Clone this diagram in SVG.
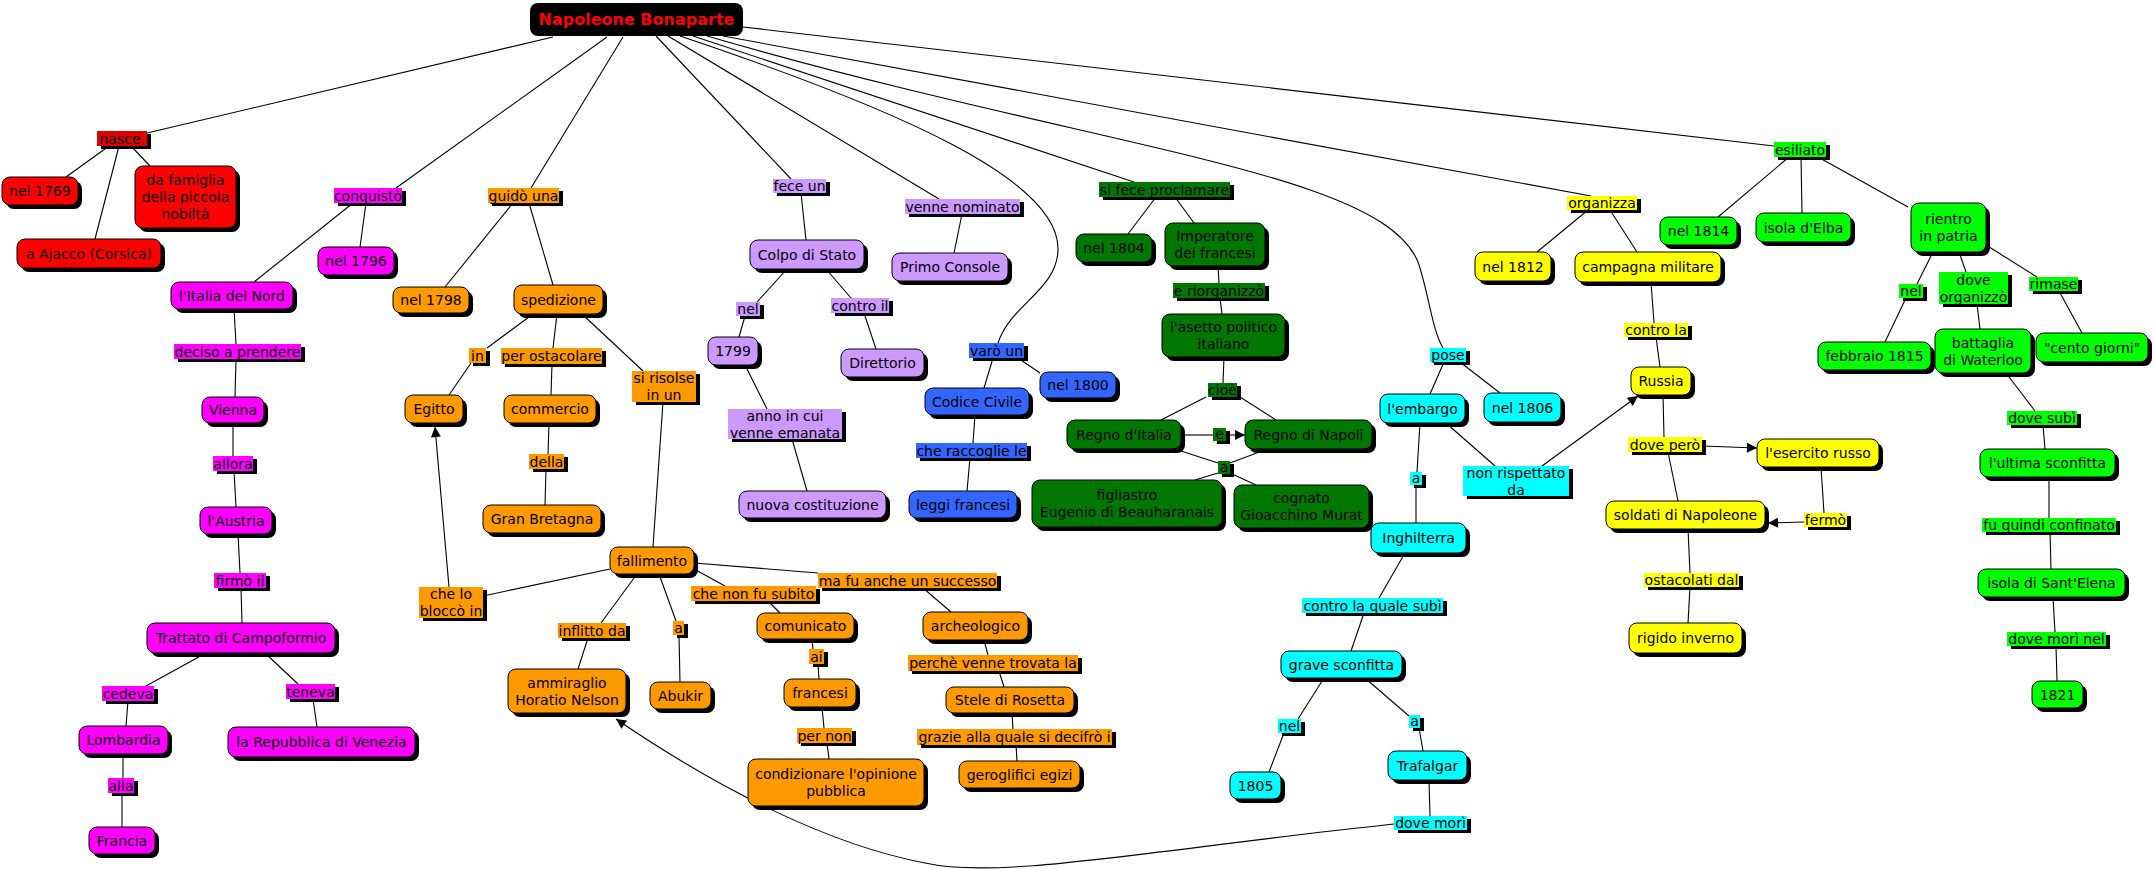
<svg xmlns="http://www.w3.org/2000/svg" width="2154" height="869" viewBox="0 0 2154 869">
<style>
.s{fill:#000}
.n .b{stroke:#000;stroke-width:1}
text{font-family:"DejaVu Sans",Verdana,sans-serif;font-size:14px;text-anchor:middle;fill:#000}
.red .b{fill:#f00}.l.red .b{fill:#e00000}
.mag .b{fill:#f0f}.ora .b{fill:#f90}.pur .b{fill:#c9f}.blu .b{fill:#36f}
.dgr .b{fill:#070}.cya .b{fill:#0ff}.yel .b{fill:#ff0}.grn .b{fill:#0f0}
#conn line,#conn path{stroke:#000;stroke-width:1.1;fill:none}
#title text{font-weight:bold;font-size:16px;fill:#f00}
</style>
<defs>
<marker id="arr" viewBox="0 0 10 10" refX="10" refY="5" markerWidth="11" markerHeight="10" markerUnits="userSpaceOnUse" orient="auto"><path d="M0,0 L10,5 L0,10 z" fill="#000"/></marker>
</defs>
<rect width="2154" height="869" fill="#fff"/>
<g id="conn">
<line x1="553" y1="37" x2="147" y2="133"/>
<line x1="607" y1="37" x2="396" y2="188"/>
<line x1="623" y1="37" x2="531" y2="188"/>
<line x1="656" y1="36" x2="791" y2="179"/>
<line x1="668" y1="36" x2="939" y2="199"/>
<path d="M680,36 C900,110 1060,180 1058,250 C1057,290 1010,305 998,343"/>
<line x1="693" y1="36" x2="1134" y2="182"/>
<path d="M707,36 C1100,150 1380,170 1418,262 C1428,290 1432,330 1443,348"/>
<line x1="723" y1="36" x2="1591" y2="196"/>
<line x1="743" y1="27" x2="1774" y2="146"/>
<line x1="109" y1="146" x2="66" y2="177"/>
<line x1="119" y1="146" x2="95" y2="239"/>
<line x1="131" y1="146" x2="150" y2="166"/>
<line x1="353" y1="203" x2="254" y2="282"/>
<line x1="366" y1="203" x2="360" y2="247"/>
<line x1="234" y1="309" x2="236" y2="344"/>
<line x1="236" y1="359" x2="235" y2="397"/>
<line x1="233" y1="423" x2="233" y2="456"/>
<line x1="234" y1="471" x2="236" y2="507"/>
<line x1="238" y1="534" x2="240" y2="573"/>
<line x1="241" y1="588" x2="242" y2="623"/>
<line x1="206" y1="653" x2="146" y2="686"/>
<line x1="265" y1="653" x2="298" y2="684"/>
<line x1="128" y1="701" x2="126" y2="726"/>
<line x1="313" y1="699" x2="317" y2="727"/>
<line x1="123" y1="754" x2="123" y2="778"/>
<line x1="122" y1="793" x2="122" y2="827"/>
<line x1="513" y1="203" x2="445" y2="287"/>
<line x1="529" y1="203" x2="553" y2="285"/>
<line x1="533" y1="314" x2="487" y2="348"/>
<line x1="471" y1="363" x2="449" y2="395"/>
<line x1="557" y1="314" x2="553" y2="348"/>
<line x1="552" y1="364" x2="551" y2="395"/>
<line x1="549" y1="423" x2="548" y2="454"/>
<line x1="546" y1="469" x2="545" y2="505"/>
<line x1="582" y1="314" x2="643" y2="371"/>
<line x1="663" y1="402" x2="653" y2="547"/>
<line x1="610" y1="569" x2="483" y2="596"/>
<line x1="449" y1="587" x2="435" y2="427" marker-end="url(#arr)"/>
<line x1="637" y1="574" x2="601" y2="623"/>
<line x1="588" y1="638" x2="578" y2="669"/>
<line x1="659" y1="574" x2="676" y2="621"/>
<line x1="679" y1="635" x2="680" y2="682"/>
<line x1="694" y1="569" x2="725" y2="586"/>
<line x1="694" y1="563" x2="818" y2="573"/>
<line x1="768" y1="601" x2="780" y2="613"/>
<line x1="923" y1="588" x2="951" y2="612"/>
<line x1="812" y1="639" x2="813" y2="649"/>
<line x1="818" y1="664" x2="819" y2="679"/>
<line x1="822" y1="707" x2="824" y2="728"/>
<line x1="827" y1="743" x2="829" y2="759"/>
<line x1="984" y1="640" x2="988" y2="655"/>
<line x1="999" y1="671" x2="1004" y2="687"/>
<line x1="1012" y1="713" x2="1013" y2="729"/>
<line x1="1016" y1="745" x2="1017" y2="761"/>
<line x1="801" y1="193" x2="806" y2="240"/>
<line x1="962" y1="214" x2="954" y2="253"/>
<line x1="787" y1="269" x2="757" y2="302"/>
<line x1="826" y1="269" x2="851" y2="298"/>
<line x1="745" y1="316" x2="739" y2="337"/>
<line x1="864" y1="313" x2="876" y2="349"/>
<line x1="745" y1="365" x2="767" y2="409"/>
<line x1="792" y1="439" x2="807" y2="491"/>
<line x1="993" y1="358" x2="984" y2="388"/>
<line x1="1018" y1="358" x2="1040" y2="373"/>
<line x1="975" y1="415" x2="973" y2="443"/>
<line x1="970" y1="458" x2="967" y2="491"/>
<line x1="1156" y1="197" x2="1128" y2="234"/>
<line x1="1175" y1="197" x2="1194" y2="223"/>
<line x1="1218" y1="266" x2="1219" y2="283"/>
<line x1="1220" y1="298" x2="1222" y2="314"/>
<line x1="1224" y1="357" x2="1223" y2="383"/>
<line x1="1206" y1="397" x2="1161" y2="420"/>
<line x1="1240" y1="397" x2="1276" y2="420"/>
<line x1="1181" y1="435" x2="1213" y2="435"/>
<line x1="1226" y1="435" x2="1245" y2="435" marker-end="url(#arr)"/>
<line x1="1181" y1="451" x2="1218" y2="463"/>
<line x1="1262" y1="451" x2="1230" y2="463"/>
<line x1="1218" y1="473" x2="1195" y2="480"/>
<line x1="1230" y1="473" x2="1256" y2="485"/>
<line x1="1444" y1="362" x2="1430" y2="394"/>
<line x1="1460" y1="362" x2="1500" y2="393"/>
<line x1="1446" y1="423" x2="1495" y2="466"/>
<line x1="1542" y1="466" x2="1638" y2="396" marker-end="url(#arr)"/>
<line x1="1420" y1="423" x2="1417" y2="472"/>
<line x1="1416" y1="485" x2="1416" y2="523"/>
<line x1="1405" y1="553" x2="1379" y2="598"/>
<line x1="1364" y1="613" x2="1351" y2="651"/>
<line x1="1324" y1="678" x2="1298" y2="719"/>
<line x1="1284" y1="733" x2="1269" y2="772"/>
<line x1="1365" y1="678" x2="1409" y2="716"/>
<line x1="1419" y1="728" x2="1423" y2="751"/>
<line x1="1429" y1="780" x2="1430" y2="816"/>
<path d="M1394,824 C1150,850 1000,880 925,863 C830,845 720,790 616,719" marker-end="url(#arr)"/>
<line x1="1588" y1="210" x2="1537" y2="252"/>
<line x1="1610" y1="210" x2="1637" y2="252"/>
<line x1="1651" y1="282" x2="1654" y2="323"/>
<line x1="1656" y1="337" x2="1660" y2="367"/>
<line x1="1663" y1="395" x2="1664" y2="437"/>
<line x1="1702" y1="446" x2="1757" y2="448" marker-end="url(#arr)"/>
<line x1="1668" y1="452" x2="1678" y2="501"/>
<line x1="1821" y1="467" x2="1824" y2="513"/>
<line x1="1804" y1="522" x2="1768" y2="523" marker-end="url(#arr)"/>
<line x1="1688" y1="529" x2="1690" y2="573"/>
<line x1="1690" y1="587" x2="1688" y2="623"/>
<line x1="1789" y1="157" x2="1718" y2="217"/>
<line x1="1801" y1="157" x2="1802" y2="213"/>
<line x1="1818" y1="157" x2="1908" y2="207"/>
<line x1="1933" y1="252" x2="1917" y2="284"/>
<line x1="1959" y1="252" x2="1966" y2="272"/>
<line x1="1986" y1="245" x2="2037" y2="277"/>
<line x1="1906" y1="298" x2="1885" y2="342"/>
<line x1="1977" y1="304" x2="1980" y2="329"/>
<line x1="2059" y1="291" x2="2082" y2="333"/>
<line x1="2006" y1="373" x2="2035" y2="411"/>
<line x1="2043" y1="425" x2="2045" y2="449"/>
<line x1="2049" y1="477" x2="2049" y2="518"/>
<line x1="2050" y1="532" x2="2051" y2="569"/>
<line x1="2053" y1="597" x2="2055" y2="632"/>
<line x1="2056" y1="646" x2="2057" y2="681"/>
</g>
<g id="title"><rect x="530" y="3" width="213" height="33" rx="8" fill="#000"/><text x="636.5" y="25">Napoleone Bonaparte</text></g>
<g id="l-nasce" class="l red"><rect class="s" x="101" y="134" width="50" height="15"/><rect class="b" x="97" y="131" width="50" height="15"/><text x="120" y="144">nasce</text></g>
<g id="n-1769" class="n red"><rect class="s" x="6" y="181" width="76" height="28" rx="8"/><rect class="b" x="2" y="177" width="76" height="28" rx="8"/><text x="40" y="196">nel 1769</text></g>
<g id="n-famiglia" class="n red"><rect class="s" x="139" y="170" width="101" height="62" rx="8"/><rect class="b" x="135" y="166" width="101" height="62" rx="8"/><text x="185.5" y="185">da famiglia</text><text x="185.5" y="202">della piccola</text><text x="185.5" y="219">nobiltà</text></g>
<g id="n-ajacco" class="n red"><rect class="s" x="21" y="243" width="144" height="29" rx="8"/><rect class="b" x="17" y="239" width="144" height="29" rx="8"/><text x="89" y="258.5">a Ajacco (Corsica)</text></g>
<g id="l-conquisto" class="l mag"><rect class="s" x="338" y="191" width="68" height="15"/><rect class="b" x="334" y="188" width="68" height="15"/><text x="368" y="200.5">conquistò</text></g>
<g id="n-1796" class="n mag"><rect class="s" x="322" y="251" width="76" height="28" rx="8"/><rect class="b" x="318" y="247" width="76" height="28" rx="8"/><text x="356" y="266">nel 1796</text></g>
<g id="n-italia" class="n mag"><rect class="s" x="175" y="286" width="122" height="27" rx="8"/><rect class="b" x="171" y="282" width="122" height="27" rx="8"/><text x="232" y="300.5">l'Italia del Nord</text></g>
<g id="l-deciso" class="l mag"><rect class="s" x="178" y="347" width="127" height="15"/><rect class="b" x="174" y="344" width="127" height="15"/><text x="237.5" y="356.5">deciso a prendere</text></g>
<g id="n-vienna" class="n mag"><rect class="s" x="206" y="401" width="62" height="26" rx="8"/><rect class="b" x="202" y="397" width="62" height="26" rx="8"/><text x="233" y="415">Vienna</text></g>
<g id="l-allora" class="l mag"><rect class="s" x="217" y="459" width="40" height="15"/><rect class="b" x="213" y="456" width="40" height="15"/><text x="233" y="468.5">allora</text></g>
<g id="n-austria" class="n mag"><rect class="s" x="204" y="511" width="72" height="27" rx="8"/><rect class="b" x="200" y="507" width="72" height="27" rx="8"/><text x="236" y="525.5">l'Austria</text></g>
<g id="l-firmo" class="l mag"><rect class="s" x="218" y="576" width="52" height="15"/><rect class="b" x="214" y="573" width="52" height="15"/><text x="240" y="585.5">firmò il</text></g>
<g id="n-trattato" class="n mag"><rect class="s" x="151" y="627" width="188" height="30" rx="8"/><rect class="b" x="147" y="623" width="188" height="30" rx="8"/><text x="241" y="643">Trattato di Campoformio</text></g>
<g id="l-cedeva" class="l mag"><rect class="s" x="106" y="689" width="52" height="15"/><rect class="b" x="102" y="686" width="52" height="15"/><text x="128" y="698.5">cedeva</text></g>
<g id="l-teneva" class="l mag"><rect class="s" x="290" y="687" width="49" height="15"/><rect class="b" x="286" y="684" width="49" height="15"/><text x="310.5" y="696.5">teneva</text></g>
<g id="n-lombardia" class="n mag"><rect class="s" x="83" y="730" width="89" height="28" rx="8"/><rect class="b" x="79" y="726" width="89" height="28" rx="8"/><text x="123.5" y="745">Lombardia</text></g>
<g id="n-venezia" class="n mag"><rect class="s" x="232" y="731" width="187" height="30" rx="8"/><rect class="b" x="228" y="727" width="187" height="30" rx="8"/><text x="321.5" y="747">la Repubblica di Venezia</text></g>
<g id="l-alla" class="l mag"><rect class="s" x="112" y="781" width="26" height="15"/><rect class="b" x="108" y="778" width="26" height="15"/><text x="121" y="790.5">alla</text></g>
<g id="n-francia" class="n mag"><rect class="s" x="93" y="831" width="66" height="27" rx="8"/><rect class="b" x="89" y="827" width="66" height="27" rx="8"/><text x="122" y="845.5">Francia</text></g>
<g id="l-guido" class="l ora"><rect class="s" x="492" y="191" width="71" height="15"/><rect class="b" x="488" y="188" width="71" height="15"/><text x="523.5" y="200.5">guidò una</text></g>
<g id="n-1798" class="n ora"><rect class="s" x="397" y="291" width="76" height="26" rx="8"/><rect class="b" x="393" y="287" width="76" height="26" rx="8"/><text x="431" y="305">nel 1798</text></g>
<g id="n-spedizione" class="n ora"><rect class="s" x="518" y="289" width="89" height="29" rx="8"/><rect class="b" x="514" y="285" width="89" height="29" rx="8"/><text x="558.5" y="304.5">spedizione</text></g>
<g id="l-in" class="l ora"><rect class="s" x="473" y="351" width="17" height="15"/><rect class="b" x="469" y="348" width="17" height="15"/><text x="477.5" y="360.5">in</text></g>
<g id="l-perost" class="l ora"><rect class="s" x="505" y="351" width="101" height="16"/><rect class="b" x="501" y="348" width="101" height="16"/><text x="551.5" y="361">per ostacolare</text></g>
<g id="l-sirisolse" class="l ora"><rect class="s" x="636" y="374" width="64" height="31"/><rect class="b" x="632" y="371" width="64" height="31"/><text x="664" y="383">si risolse</text><text x="664" y="400">in un</text></g>
<g id="n-egitto" class="n ora"><rect class="s" x="409" y="399" width="58" height="28" rx="8"/><rect class="b" x="405" y="395" width="58" height="28" rx="8"/><text x="434" y="414">Egitto</text></g>
<g id="n-commercio" class="n ora"><rect class="s" x="508" y="399" width="92" height="28" rx="8"/><rect class="b" x="504" y="395" width="92" height="28" rx="8"/><text x="550" y="414">commercio</text></g>
<g id="l-della" class="l ora"><rect class="s" x="533" y="457" width="35" height="15"/><rect class="b" x="529" y="454" width="35" height="15"/><text x="546.5" y="466.5">della</text></g>
<g id="n-gb" class="n ora"><rect class="s" x="487" y="509" width="118" height="28" rx="8"/><rect class="b" x="483" y="505" width="118" height="28" rx="8"/><text x="542" y="524">Gran Bretagna</text></g>
<g id="n-fallimento" class="n ora"><rect class="s" x="614" y="551" width="84" height="27" rx="8"/><rect class="b" x="610" y="547" width="84" height="27" rx="8"/><text x="652" y="565.5">fallimento</text></g>
<g id="l-chelo" class="l ora"><rect class="s" x="423" y="590" width="64" height="31"/><rect class="b" x="419" y="587" width="64" height="31"/><text x="451" y="599">che lo</text><text x="451" y="616">bloccò in</text></g>
<g id="l-inflitto" class="l ora"><rect class="s" x="562" y="626" width="68" height="15"/><rect class="b" x="558" y="623" width="68" height="15"/><text x="592" y="635.5">inflitto da</text></g>
<g id="l-a1" class="l ora"><rect class="s" x="677" y="624" width="11" height="14"/><rect class="b" x="673" y="621" width="11" height="14"/><text x="678.5" y="633">a</text></g>
<g id="n-nelson" class="n ora"><rect class="s" x="512" y="673" width="118" height="44" rx="8"/><rect class="b" x="508" y="669" width="118" height="44" rx="8"/><text x="567" y="687.5">ammiraglio</text><text x="567" y="704.5">Horatio Nelson</text></g>
<g id="n-abukir" class="n ora"><rect class="s" x="654" y="686" width="61" height="27" rx="8"/><rect class="b" x="650" y="682" width="61" height="27" rx="8"/><text x="680.5" y="700.5">Abukir</text></g>
<g id="l-chenon" class="l ora"><rect class="s" x="695" y="589" width="125" height="15"/><rect class="b" x="691" y="586" width="125" height="15"/><text x="753.5" y="598.5">che non fu subito</text></g>
<g id="l-mafu" class="l ora"><rect class="s" x="822" y="576" width="179" height="15"/><rect class="b" x="818" y="573" width="179" height="15"/><text x="907.5" y="585.5">ma fu anche un successo</text></g>
<g id="n-comunicato" class="n ora"><rect class="s" x="761" y="617" width="97" height="26" rx="8"/><rect class="b" x="757" y="613" width="97" height="26" rx="8"/><text x="805.5" y="631">comunicato</text></g>
<g id="n-archeologico" class="n ora"><rect class="s" x="927" y="616" width="105" height="28" rx="8"/><rect class="b" x="923" y="612" width="105" height="28" rx="8"/><text x="975.5" y="631">archeologico</text></g>
<g id="l-ai" class="l ora"><rect class="s" x="813" y="652" width="15" height="15"/><rect class="b" x="809" y="649" width="15" height="15"/><text x="816.5" y="661.5">ai</text></g>
<g id="n-francesi" class="n ora"><rect class="s" x="788" y="683" width="72" height="28" rx="8"/><rect class="b" x="784" y="679" width="72" height="28" rx="8"/><text x="820" y="698">francesi</text></g>
<g id="l-pernon" class="l ora"><rect class="s" x="801" y="731" width="55" height="15"/><rect class="b" x="797" y="728" width="55" height="15"/><text x="824.5" y="740.5">per non</text></g>
<g id="n-condizionare" class="n ora"><rect class="s" x="752" y="763" width="176" height="47" rx="8"/><rect class="b" x="748" y="759" width="176" height="47" rx="8"/><text x="836" y="779">condizionare l'opinione</text><text x="836" y="796">pubblica</text></g>
<g id="l-perche" class="l ora"><rect class="s" x="912" y="658" width="170" height="16"/><rect class="b" x="908" y="655" width="170" height="16"/><text x="993" y="668">perchè venne trovata la</text></g>
<g id="n-stele" class="n ora"><rect class="s" x="950" y="691" width="128" height="26" rx="8"/><rect class="b" x="946" y="687" width="128" height="26" rx="8"/><text x="1010" y="705">Stele di Rosetta</text></g>
<g id="l-grazie" class="l ora"><rect class="s" x="921" y="732" width="195" height="16"/><rect class="b" x="917" y="729" width="195" height="16"/><text x="1014.5" y="742">grazie alla quale si decifrò i</text></g>
<g id="n-geroglifici" class="n ora"><rect class="s" x="963" y="765" width="121" height="27" rx="8"/><rect class="b" x="959" y="761" width="121" height="27" rx="8"/><text x="1019.5" y="779.5">geroglifici egizi</text></g>
<g id="l-feceun" class="l pur"><rect class="s" x="777" y="182" width="53" height="14"/><rect class="b" x="773" y="179" width="53" height="14"/><text x="799.5" y="191">fece un</text></g>
<g id="l-venne" class="l pur"><rect class="s" x="909" y="202" width="115" height="15"/><rect class="b" x="905" y="199" width="115" height="15"/><text x="962.5" y="211.5">venne nominato</text></g>
<g id="n-colpo" class="n pur"><rect class="s" x="754" y="244" width="114" height="29" rx="8"/><rect class="b" x="750" y="240" width="114" height="29" rx="8"/><text x="807" y="259.5">Colpo di Stato</text></g>
<g id="n-primo" class="n pur"><rect class="s" x="896" y="257" width="116" height="28" rx="8"/><rect class="b" x="892" y="253" width="116" height="28" rx="8"/><text x="950" y="272">Primo Console</text></g>
<g id="l-nel2" class="l pur"><rect class="s" x="740" y="305" width="24" height="14"/><rect class="b" x="736" y="302" width="24" height="14"/><text x="748" y="314">nel</text></g>
<g id="l-controil" class="l pur"><rect class="s" x="835" y="301" width="58" height="15"/><rect class="b" x="831" y="298" width="58" height="15"/><text x="860" y="310.5">contro il</text></g>
<g id="n-1799" class="n pur"><rect class="s" x="712" y="341" width="50" height="28" rx="8"/><rect class="b" x="708" y="337" width="50" height="28" rx="8"/><text x="733" y="356">1799</text></g>
<g id="n-direttorio" class="n pur"><rect class="s" x="845" y="353" width="83" height="28" rx="8"/><rect class="b" x="841" y="349" width="83" height="28" rx="8"/><text x="882.5" y="368">Direttorio</text></g>
<g id="l-anno" class="l pur"><rect class="s" x="732" y="412" width="114" height="30"/><rect class="b" x="728" y="409" width="114" height="30"/><text x="785" y="420.5">anno in cui</text><text x="785" y="437.5">venne emanata</text></g>
<g id="n-nuova" class="n pur"><rect class="s" x="743" y="495" width="147" height="27" rx="8"/><rect class="b" x="739" y="491" width="147" height="27" rx="8"/><text x="812.5" y="509.5">nuova costituzione</text></g>
<g id="l-varo" class="l blu"><rect class="s" x="973" y="346" width="55" height="15"/><rect class="b" x="969" y="343" width="55" height="15"/><text x="996.5" y="355.5">varò un</text></g>
<g id="n-1800" class="n blu"><rect class="s" x="1044" y="376" width="76" height="26" rx="8"/><rect class="b" x="1040" y="372" width="76" height="26" rx="8"/><text x="1078" y="390">nel 1800</text></g>
<g id="n-codice" class="n blu"><rect class="s" x="929" y="392" width="104" height="27" rx="8"/><rect class="b" x="925" y="388" width="104" height="27" rx="8"/><text x="977" y="406.5">Codice Civile</text></g>
<g id="l-raccoglie" class="l blu"><rect class="s" x="920" y="446" width="111" height="15"/><rect class="b" x="916" y="443" width="111" height="15"/><text x="971.5" y="455.5">che raccoglie le</text></g>
<g id="n-leggi" class="n blu"><rect class="s" x="913" y="495" width="108" height="27" rx="8"/><rect class="b" x="909" y="491" width="108" height="27" rx="8"/><text x="963" y="509.5">leggi francesi</text></g>
<g id="l-sifece" class="l dgr"><rect class="s" x="1103" y="185" width="131" height="15"/><rect class="b" x="1099" y="182" width="131" height="15"/><text x="1164.5" y="194.5">si fece proclamare</text></g>
<g id="n-1804" class="n dgr"><rect class="s" x="1080" y="238" width="76" height="28" rx="8"/><rect class="b" x="1076" y="234" width="76" height="28" rx="8"/><text x="1114" y="253">nel 1804</text></g>
<g id="n-imperatore" class="n dgr"><rect class="s" x="1169" y="227" width="100" height="43" rx="8"/><rect class="b" x="1165" y="223" width="100" height="43" rx="8"/><text x="1215" y="241">Imperatore</text><text x="1215" y="258">dei francesi</text></g>
<g id="l-riorg" class="l dgr"><rect class="s" x="1177" y="286" width="92" height="15"/><rect class="b" x="1173" y="283" width="92" height="15"/><text x="1219" y="295.5">e riorganizzò</text></g>
<g id="n-asetto" class="n dgr"><rect class="s" x="1166" y="318" width="123" height="43" rx="8"/><rect class="b" x="1162" y="314" width="123" height="43" rx="8"/><text x="1223.5" y="332">l'asetto politico</text><text x="1223.5" y="349">italiano</text></g>
<g id="l-cioe" class="l dgr"><rect class="s" x="1212" y="386" width="29" height="14"/><rect class="b" x="1208" y="383" width="29" height="14"/><text x="1222.5" y="395">cioè</text></g>
<g id="n-regnoitalia" class="n dgr"><rect class="s" x="1071" y="424" width="114" height="29" rx="8"/><rect class="b" x="1067" y="420" width="114" height="29" rx="8"/><text x="1124" y="439.5">Regno d'Italia</text></g>
<g id="l-e" class="l dgr"><rect class="s" x="1217" y="431" width="13" height="13"/><rect class="b" x="1213" y="428" width="13" height="13"/><text x="1219.5" y="439">e</text></g>
<g id="n-regnonapoli" class="n dgr"><rect class="s" x="1249" y="424" width="127" height="29" rx="8"/><rect class="b" x="1245" y="420" width="127" height="29" rx="8"/><text x="1308.5" y="439.5">Regno di Napoli</text></g>
<g id="l-a2" class="l dgr"><rect class="s" x="1222" y="464" width="12" height="13"/><rect class="b" x="1218" y="461" width="12" height="13"/><text x="1224" y="472">a</text></g>
<g id="n-figliastro" class="n dgr"><rect class="s" x="1036" y="484" width="190" height="47" rx="8"/><rect class="b" x="1032" y="480" width="190" height="47" rx="8"/><text x="1127" y="500">figliastro</text><text x="1127" y="517">Eugenio di Beauharanais</text></g>
<g id="n-cognato" class="n dgr"><rect class="s" x="1238" y="489" width="135" height="43" rx="8"/><rect class="b" x="1234" y="485" width="135" height="43" rx="8"/><text x="1301.5" y="503">cognato</text><text x="1301.5" y="520">Gioacchino Murat</text></g>
<g id="l-pose" class="l cya"><rect class="s" x="1434" y="351" width="36" height="14"/><rect class="b" x="1430" y="348" width="36" height="14"/><text x="1448" y="360">pose</text></g>
<g id="n-embargo" class="n cya"><rect class="s" x="1384" y="398" width="85" height="29" rx="8"/><rect class="b" x="1380" y="394" width="85" height="29" rx="8"/><text x="1422.5" y="413.5">l'embargo</text></g>
<g id="n-1806" class="n cya"><rect class="s" x="1488" y="397" width="77" height="29" rx="8"/><rect class="b" x="1484" y="393" width="77" height="29" rx="8"/><text x="1522.5" y="412.5">nel 1806</text></g>
<g id="l-nonrisp" class="l cya"><rect class="s" x="1467" y="469" width="106" height="30"/><rect class="b" x="1463" y="466" width="106" height="30"/><text x="1516" y="477.5">non rispettato</text><text x="1516" y="494.5">da</text></g>
<g id="l-a3" class="l cya"><rect class="s" x="1414" y="475" width="12" height="13"/><rect class="b" x="1410" y="472" width="12" height="13"/><text x="1416" y="483">a</text></g>
<g id="n-inghilterra" class="n cya"><rect class="s" x="1375" y="527" width="95" height="30" rx="8"/><rect class="b" x="1371" y="523" width="95" height="30" rx="8"/><text x="1418.5" y="543">Inghilterra</text></g>
<g id="l-controquale" class="l cya"><rect class="s" x="1306" y="601" width="141" height="15"/><rect class="b" x="1302" y="598" width="141" height="15"/><text x="1372.5" y="610.5">contro la quale subì</text></g>
<g id="n-grave" class="n cya"><rect class="s" x="1285" y="655" width="121" height="27" rx="8"/><rect class="b" x="1281" y="651" width="121" height="27" rx="8"/><text x="1341.5" y="669.5">grave sconfitta</text></g>
<g id="l-nel3" class="l cya"><rect class="s" x="1282" y="722" width="23" height="14"/><rect class="b" x="1278" y="719" width="23" height="14"/><text x="1289.5" y="731">nel</text></g>
<g id="l-a4" class="l cya"><rect class="s" x="1413" y="718" width="11" height="13"/><rect class="b" x="1409" y="715" width="11" height="13"/><text x="1414.5" y="726">a</text></g>
<g id="n-1805" class="n cya"><rect class="s" x="1234" y="776" width="51" height="27" rx="8"/><rect class="b" x="1230" y="772" width="51" height="27" rx="8"/><text x="1255.5" y="790.5">1805</text></g>
<g id="n-trafalgar" class="n cya"><rect class="s" x="1392" y="755" width="79" height="29" rx="8"/><rect class="b" x="1388" y="751" width="79" height="29" rx="8"/><text x="1427.5" y="770.5">Trafalgar</text></g>
<g id="l-dovemori" class="l cya"><rect class="s" x="1398" y="819" width="73" height="14"/><rect class="b" x="1394" y="816" width="73" height="14"/><text x="1430.5" y="828">dove morì</text></g>
<g id="l-organizza" class="l yel"><rect class="s" x="1571" y="199" width="70" height="14"/><rect class="b" x="1567" y="196" width="70" height="14"/><text x="1602" y="208">organizza</text></g>
<g id="n-1812" class="n yel"><rect class="s" x="1479" y="256" width="76" height="29" rx="8"/><rect class="b" x="1475" y="252" width="76" height="29" rx="8"/><text x="1513" y="271.5">nel 1812</text></g>
<g id="n-campagna" class="n yel"><rect class="s" x="1579" y="256" width="146" height="30" rx="8"/><rect class="b" x="1575" y="252" width="146" height="30" rx="8"/><text x="1648" y="272">campagna militare</text></g>
<g id="l-controla" class="l yel"><rect class="s" x="1628" y="326" width="64" height="14"/><rect class="b" x="1624" y="323" width="64" height="14"/><text x="1656" y="335">contro la</text></g>
<g id="n-russia" class="n yel"><rect class="s" x="1635" y="371" width="60" height="28" rx="8"/><rect class="b" x="1631" y="367" width="60" height="28" rx="8"/><text x="1661" y="386">Russia</text></g>
<g id="l-dovepero" class="l yel"><rect class="s" x="1632" y="440" width="74" height="15"/><rect class="b" x="1628" y="437" width="74" height="15"/><text x="1665" y="449.5">dove però</text></g>
<g id="n-esercito" class="n yel"><rect class="s" x="1761" y="443" width="122" height="28" rx="8"/><rect class="b" x="1757" y="439" width="122" height="28" rx="8"/><text x="1818" y="458">l'esercito russo</text></g>
<g id="n-soldati" class="n yel"><rect class="s" x="1610" y="505" width="159" height="28" rx="8"/><rect class="b" x="1606" y="501" width="159" height="28" rx="8"/><text x="1685.5" y="520">soldati di Napoleone</text></g>
<g id="l-fermo" class="l yel"><rect class="s" x="1808" y="516" width="43" height="14"/><rect class="b" x="1804" y="513" width="43" height="14"/><text x="1825.5" y="525">fermò</text></g>
<g id="l-ostacolati" class="l yel"><rect class="s" x="1648" y="576" width="95" height="14"/><rect class="b" x="1644" y="573" width="95" height="14"/><text x="1691.5" y="585">ostacolati dal</text></g>
<g id="n-rigido" class="n yel"><rect class="s" x="1633" y="627" width="113" height="30" rx="8"/><rect class="b" x="1629" y="623" width="113" height="30" rx="8"/><text x="1685.5" y="643">rigido inverno</text></g>
<g id="l-esiliato" class="l grn"><rect class="s" x="1778" y="145" width="52" height="15"/><rect class="b" x="1774" y="142" width="52" height="15"/><text x="1800" y="154.5">esiliato</text></g>
<g id="n-1814" class="n grn"><rect class="s" x="1664" y="221" width="77" height="28" rx="8"/><rect class="b" x="1660" y="217" width="77" height="28" rx="8"/><text x="1698.5" y="236">nel 1814</text></g>
<g id="n-elba" class="n grn"><rect class="s" x="1760" y="217" width="95" height="29" rx="8"/><rect class="b" x="1756" y="213" width="95" height="29" rx="8"/><text x="1803.5" y="232.5">isola d'Elba</text></g>
<g id="n-rientro" class="n grn"><rect class="s" x="1915" y="207" width="75" height="49" rx="8"/><rect class="b" x="1911" y="203" width="75" height="49" rx="8"/><text x="1948.5" y="224">rientro</text><text x="1948.5" y="241">in patria</text></g>
<g id="l-nel4" class="l grn"><rect class="s" x="1903" y="287" width="24" height="14"/><rect class="b" x="1899" y="284" width="24" height="14"/><text x="1911" y="296">nel</text></g>
<g id="l-doveorg" class="l grn"><rect class="s" x="1943" y="275" width="69" height="32"/><rect class="b" x="1939" y="272" width="69" height="32"/><text x="1973.5" y="284.5">dove</text><text x="1973.5" y="301.5">organizzò</text></g>
<g id="l-rimase" class="l grn"><rect class="s" x="2033" y="280" width="49" height="14"/><rect class="b" x="2029" y="277" width="49" height="14"/><text x="2053.5" y="289">rimase</text></g>
<g id="n-febbraio" class="n grn"><rect class="s" x="1822" y="346" width="113" height="28" rx="8"/><rect class="b" x="1818" y="342" width="113" height="28" rx="8"/><text x="1874.5" y="361">febbraio 1815</text></g>
<g id="n-waterloo" class="n grn"><rect class="s" x="1939" y="333" width="96" height="44" rx="8"/><rect class="b" x="1935" y="329" width="96" height="44" rx="8"/><text x="1983" y="347.5">battaglia</text><text x="1983" y="364.5">di Waterloo</text></g>
<g id="n-cento" class="n grn"><rect class="s" x="2040" y="337" width="112" height="29" rx="8"/><rect class="b" x="2036" y="333" width="112" height="29" rx="8"/><text x="2092" y="352.5">"cento giorni"</text></g>
<g id="l-dovesubi" class="l grn"><rect class="s" x="2011" y="414" width="70" height="14"/><rect class="b" x="2007" y="411" width="70" height="14"/><text x="2042" y="423">dove subì</text></g>
<g id="n-ultima" class="n grn"><rect class="s" x="1984" y="453" width="135" height="28" rx="8"/><rect class="b" x="1980" y="449" width="135" height="28" rx="8"/><text x="2047.5" y="468">l'ultima sconfitta</text></g>
<g id="l-confinato" class="l grn"><rect class="s" x="1986" y="521" width="134" height="14"/><rect class="b" x="1982" y="518" width="134" height="14"/><text x="2049" y="530">fu quindi confinato</text></g>
<g id="n-santelena" class="n grn"><rect class="s" x="1982" y="573" width="147" height="28" rx="8"/><rect class="b" x="1978" y="569" width="147" height="28" rx="8"/><text x="2051.5" y="588">isola di Sant'Elena</text></g>
<g id="l-dovemorinel" class="l grn"><rect class="s" x="2011" y="635" width="99" height="14"/><rect class="b" x="2007" y="632" width="99" height="14"/><text x="2056.5" y="644">dove morì nel</text></g>
<g id="n-1821" class="n grn"><rect class="s" x="2036" y="685" width="51" height="27" rx="8"/><rect class="b" x="2032" y="681" width="51" height="27" rx="8"/><text x="2057.5" y="699.5">1821</text></g>
</svg>
